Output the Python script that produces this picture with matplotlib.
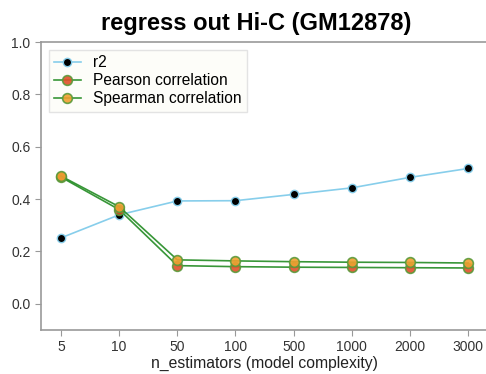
import matplotlib
matplotlib.use("Agg")
import matplotlib.pyplot as plt

plt.rcParams['font.family'] = ['Liberation Sans', 'DejaVu Sans']

# n_estimators settings and scores
n_estimators = ['5', '10', '50', '100', '500', '1000', '2000', '3000']
r2 = [0.252, 0.340, 0.393, 0.394, 0.418, 0.443, 0.483, 0.517]
pearson = [0.484, 0.360, 0.146, 0.142, 0.140, 0.139, 0.138, 0.137]
spearman = [0.488, 0.371, 0.168, 0.164, 0.161, 0.159, 0.158, 0.156]

fig = plt.figure(figsize=(4.86, 3.74), dpi=100)
ax = fig.add_axes([0.0844, 0.1176, 0.9206, 0.770])

x = list(range(len(n_estimators)))
ax.plot(x, r2, color='skyblue', lw=1.2, marker='o', ms=6,
        mfc='black', mec='skyblue', mew=1, label='r2')
ax.plot(x, pearson, color='forestgreen', lw=1.2, alpha=0.9, marker='o', ms=7,
        mfc='#e0502a', mec='#5a9a3a', mew=1.2, label='Pearson correlation')
ax.plot(x, spearman, color='forestgreen', lw=1.2, alpha=0.9, marker='o', ms=7,
        mfc='#f0a030', mec='#5a9a3a', mew=1.2, label='Spearman correlation')

ax.set_xticks(x)
ax.set_xticklabels(n_estimators)
ax.set_xlim(-0.344, 7.35)
ax.set_ylim(-0.1, 1.0)
ax.set_yticks([0.0, 0.2, 0.4, 0.6, 0.8, 1.0])

for side in ax.spines.values():
    side.set_color('#999999')
    side.set_linewidth(1.2)
ax.tick_params(colors='#999999', labelcolor='#333333', labelsize=10, length=4)

ax.set_xlabel('n_estimators (model complexity)', fontsize=11.3, color='#222222', labelpad=1)
ax.set_title('regress out Hi-C (GM12878)', fontsize=17, fontweight='bold', pad=9, x=0.48)

leg = ax.legend(loc='upper left', fontsize=11.2, frameon=True, borderpad=0.35,
                handlelength=1.7, labelspacing=0.2, fancybox=False)
leg.get_frame().set_facecolor('#fdfdf8')
leg.get_frame().set_edgecolor('#dddddd')

fig.savefig('out.png', dpi=100)
